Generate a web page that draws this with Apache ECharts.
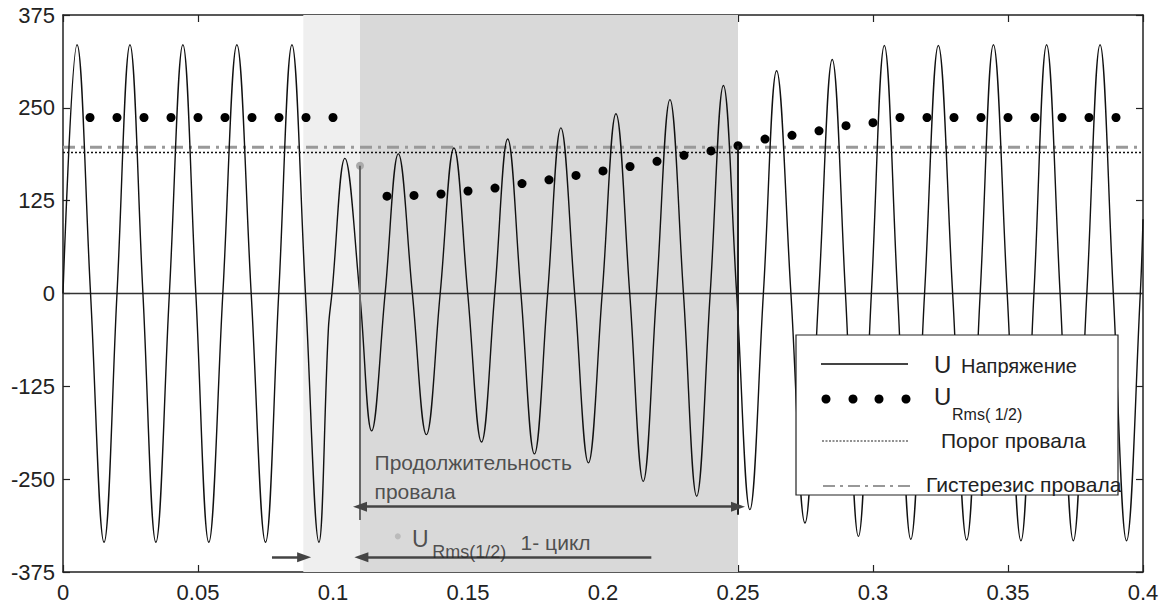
<!DOCTYPE html>
<html><head><meta charset="utf-8">
<script src="https://cdn.jsdelivr.net/npm/echarts@6/dist/echarts.min.js"></script>
<style>html,body{margin:0;padding:0;background:#fff}#c{width:1171px;height:605px}</style>
</head><body><div id="c"></div>
<script>
// ---- data ----
// voltage waveform: peaks and zero crossings [t (s), U (V)]
const voltageT = [0,0.0052,0.0102,0.0152,0.0200,0.0248,0.0296,0.0344,0.0394,0.0444,0.0492,0.0540,0.0592,0.0644,0.0697,0.0750,0.0799,0.0848,0.0898,0.0948,0.0983,0.0996,0.1044,0.1099,0.1143,0.1193,0.1242,0.1294,0.1346,0.1397,0.1448,0.1499,0.1550,0.1599,0.1647,0.1696,0.1746,0.1795,0.1844,0.1895,0.1946,0.1997,0.2048,0.2099,0.2149,0.2198,0.2248,0.2298,0.2347,0.2397,0.2446,0.2495,0.2544,0.2594,0.2643,0.2696,0.2748,0.2799,0.2849,0.2898,0.2946,0.2994,0.3042,0.3091,0.3140,0.3191,0.3242,0.3295,0.3347,0.3397,0.3446,0.3497,0.3548,0.3596,0.3643,0.3693,0.3742,0.3792,0.3841,0.3890,0.3939,0.3990,0.4000];
const voltageV = [0,335,0,-335,0,335,0,-335,0,335,0,-335,0,335,0,-335,0,335,0,-335,-47,0,182,0,-185,0,188,0,-190,0,196,0,-200,0,208,0,-216,0,223,0,-228,0,242,0,-253,0,261,0,-273,0,280,0,-291,0,300,0,-309,0,315,0,-327,0,334,0,-331,0,334,0,-332,0,335,0,-333,0,335,0,-333,0,335,0,-333,0,100];
// half-cycle RMS values
const rmsT = [0.01,0.02,0.03,0.04,0.05,0.06,0.07,0.08,0.09,0.10,0.12,0.13,0.14,0.15,0.16,0.17,0.18,0.19,0.20,0.21,0.22,0.23,0.24,0.25,0.26,0.27,0.28,0.29,0.30,0.31,0.32,0.33,0.34,0.35,0.36,0.37,0.38,0.39];
const rmsV = [237,237,237,237,237,237,237,237,237,237,131,132,134,138,142,148,153,159,165,171,178,186,192,199,208,213,219,226,230,237,237,237,237,237,237,237,237,237];
const rmsStartT = [0.11];
const rmsStartV = [172];
const dipThreshold = 190;
const dipHysteresis = 197;
const cycleStart = 0.089, dipStart = 0.11, dipEnd = 0.25;
const xTicks = {min:0, max:0.4, interval:0.05};
const yTicks = {min:-375, max:375, interval:125};

const FONT = '"Liberation Sans", Arial, sans-serif';
const chart = echarts.init(document.getElementById('c'), null, {renderer:'svg'});

const zip = (a,b) => a.map((t,i)=>[t,b[i]]);
const axisCommon = {
  type:'value', splitLine:{show:false},
  axisLine:{show:true, onZero:false, lineStyle:{color:'#222', width:1.5}},
  axisTick:{show:true, inside:true, length:7, lineStyle:{color:'#222', width:1.2}}
};
const textNote = (coord, text, size, color) => ({
  value: coord,
  label:{show:true, position:'right', distance:0, formatter:text, fontSize:size, fontFamily:FONT, color:color||'#2a2a2a'}
});

const option = {
  animation:false,
  backgroundColor:'#fff',
  grid:{left:63, right:28, top:15, bottom:33},
  xAxis:[
    Object.assign({}, axisCommon, xTicks, {position:'bottom',
      axisLabel:{fontSize:22, fontFamily:FONT, color:'#222', margin:9}}),
    Object.assign({}, axisCommon, xTicks, {position:'top', axisLabel:{show:false}})
  ],
  yAxis:[
    Object.assign({}, axisCommon, yTicks, {position:'left',
      axisLabel:{fontSize:22, fontFamily:FONT, color:'#222', margin:8}}),
    Object.assign({}, axisCommon, yTicks, {position:'right', axisLabel:{show:false}})
  ],
  series:[
    { type:'line', data:[], z:1, silent:true,
      markArea:{silent:true, data:[
        [{xAxis:cycleStart, itemStyle:{color:'#efefef'}},{xAxis:dipStart}],
        [{xAxis:dipStart, itemStyle:{color:'#d9d9d9'}},{xAxis:dipEnd}]
      ]}
    },
    { name:'zero', type:'line', z:2, symbol:'none', silent:true,
      data:[[xTicks.min,0],[xTicks.max,0]], lineStyle:{color:'#333', width:1.5} },
    { name:'Гистерезис провала', type:'line', z:2, symbol:'none', silent:true,
      data:[[xTicks.min,dipHysteresis],[xTicks.max,dipHysteresis]],
      lineStyle:{color:'#999', width:3, type:[12,6,3,6]} },
    { name:'Порог провала', type:'line', z:2, symbol:'none', silent:true,
      data:[[xTicks.min,dipThreshold],[xTicks.max,dipThreshold]],
      lineStyle:{color:'#111', width:1.5, type:[2,2]} },
    { name:'U', type:'line', z:3, symbol:'none', smooth:0.4, silent:true,
      data: zip(voltageT, voltageV), lineStyle:{color:'#111', width:1.4} },
    { name:'URms', type:'scatter', z:4, symbolSize:9, silent:true,
      data: zip(rmsT, rmsV), itemStyle:{color:'#000', opacity:1} },
    { name:'URmsStart', type:'scatter', z:4, symbolSize:8, silent:true,
      data: zip(rmsStartT, rmsStartV), itemStyle:{color:'#aaa', opacity:1} },
    { type:'line', data:[], z:5, silent:true,
      markLine:{silent:true, symbol:'none', label:{show:false},
        lineStyle:{color:'#444', width:2, type:'solid'},
        data:[
          [{coord:[dipStart, rmsStartV[0]], lineStyle:{color:'#666'}},{coord:[dipStart,-305]}],
          [{coord:[dipEnd, 199], lineStyle:{color:'#222'}},{coord:[dipEnd,-298]}]
        ]}
    },
    { type:'line', data:[], z:5, silent:true,
      markLine:{silent:true, symbol:['triangle','triangle'], symbolSize:[10,14], label:{show:false},
        lineStyle:{color:'#444', width:2.5, type:'solid'},
        data:[
          [{coord:[dipStart,-287]},{coord:[dipEnd,-287]}]
        ]}
    },
    { type:'line', data:[], z:5, silent:true,
      markLine:{silent:true, symbol:['none','triangle'], symbolSize:[10,14], label:{show:false},
        lineStyle:{color:'#444', width:2.5, type:'solid'},
        data:[
          [{coord:[0.2179,-355]},{coord:[dipStart+0.0005,-355]}],
          [{coord:[0.0774,-355]},{coord:[0.0893,-355]}]
        ]}
    },
    { type:'scatter', z:6, symbolSize:6, silent:true, itemStyle:{color:'#bbb', opacity:1},
      data:[[0.124,-327]] },
    { type:'scatter', z:6, symbolSize:1, silent:true, itemStyle:{color:'rgba(0,0,0,0)'},
      data:[
        textNote([0.1152,-228], 'Продолжительность', 21),
        textNote([0.1152,-267], 'провала', 21),
        textNote([0.1291,-330], 'U', 23),
        textNote([0.1366,-348], 'Rms(1/2)', 18),
        textNote([0.1693,-335], '1- цикл', 21)
      ] }
  ],
  graphic:[
    {type:'rect', z:100, shape:{x:796, y:335, width:322, height:160}, style:{fill:'#fff', stroke:'#222', lineWidth:1.2}},
    {type:'line', z:101, shape:{x1:821,y1:364,x2:908,y2:364}, style:{stroke:'#444', lineWidth:2}},
    {type:'text', z:101, x:934, y:364, style:{text:'U', fontSize:24, fontFamily:FONT, fill:'#222', verticalAlign:'middle'}},
    {type:'text', z:101, x:961, y:366, style:{text:'Напряжение', fontSize:20, fontFamily:FONT, fill:'#222', verticalAlign:'middle'}},
    {type:'circle', z:101, shape:{cx:826, cy:399, r:4.5}, style:{fill:'#000'}},
    {type:'circle', z:101, shape:{cx:853, cy:399, r:4.5}, style:{fill:'#000'}},
    {type:'circle', z:101, shape:{cx:879, cy:399, r:4.5}, style:{fill:'#000'}},
    {type:'circle', z:101, shape:{cx:906, cy:399, r:4.5}, style:{fill:'#000'}},
    {type:'text', z:101, x:934, y:396, style:{text:'U', fontSize:24, fontFamily:FONT, fill:'#222', verticalAlign:'middle'}},
    {type:'text', z:101, x:952, y:414, style:{text:'Rms( 1/2)', fontSize:16, fontFamily:FONT, fill:'#222', verticalAlign:'middle'}},
    {type:'line', z:101, shape:{x1:822,y1:441,x2:908,y2:441}, style:{stroke:'#222', lineWidth:1.2, lineDash:[2,1.5]}},
    {type:'text', z:101, x:941, y:440, style:{text:'Порог провала', fontSize:21, fontFamily:FONT, fill:'#222', verticalAlign:'middle'}},
    {type:'line', z:101, shape:{x1:823,y1:486,x2:912,y2:486}, style:{stroke:'#333', lineWidth:1.2, lineDash:[12,5,3,5]}},
    {type:'text', z:101, x:926, y:484, style:{text:'Гистерезис провала', fontSize:21, fontFamily:FONT, fill:'#222', verticalAlign:'middle'}}
  ]
};
chart.setOption(option);
</script>
</body></html>
